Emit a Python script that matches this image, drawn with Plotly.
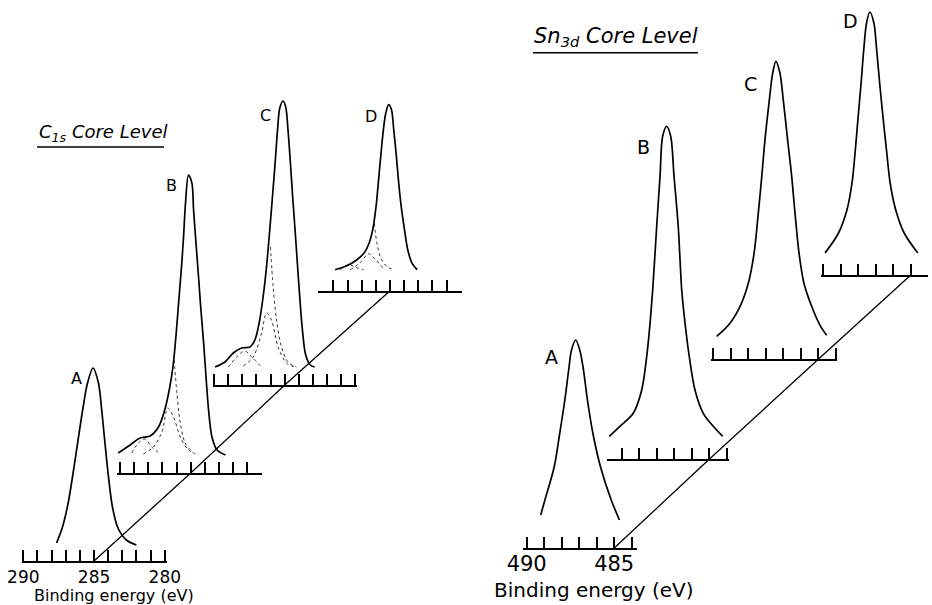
import plotly.graph_objects as go

W, H = 932, 605

# ------------------------------------------------------------------
# DATA (intensities in arbitrary units)
# ------------------------------------------------------------------
C1S_TICKS = [290, 289, 288, 287, 286, 285, 284, 283, 282, 281, 280]
C1S_LABELED = [290, 285, 280]
SN_TICKS = [490, 489, 488, 487, 486, 485, 484]
SN_TICKS_C = [491, 490, 489, 488, 487, 486, 485, 484]
SN_LABELED = [490, 485]
LABELS = ["A", "B", "C", "D"]

# C1s spectrum A
C1S_A_BE = [287.65, 287.23, 286.83, 286.48, 286.13, 285.77, 285.46, 285.07, 284.69,
            284.48, 284.25, 284.01, 283.70, 283.31, 282.72, 282.01]
C1S_A_INT = [18, 34, 58, 88, 121, 154, 178, 193, 178, 154, 121, 88, 54, 33, 21, 16]

# C1s spectrum B (envelope + fitted components)
C1S_B_BE = [290.12, 289.29, 288.58, 287.87, 287.28, 286.88, 286.52, 286.26, 286.05,
            285.86, 285.67, 285.51, 285.37, 285.16, 284.92, 284.80, 284.63, 284.45,
            284.28, 284.09, 283.92, 283.74, 283.50, 283.14, 282.55]
C1S_B_INT = [20, 28, 35, 37, 46, 61, 83, 106, 136, 170, 203, 236, 270, 298, 290, 263,
             230, 196, 163, 130, 96, 63, 36, 23, 18]
C1S_B_MAIN_BE = [286.17, 285.98, 285.74, 285.39, 284.80]
C1S_B_MAIN_INT = [113, 80, 50, 30, 20]
C1S_B_C2_BE = [288.35, 287.64, 287.04, 286.62, 286.22, 285.74, 285.23, 284.68]
C1S_B_C2_INT = [19, 26, 41, 65, 56, 36, 24, 19]
C1S_B_C3_BE = [289.17, 288.70, 288.23, 287.75, 287.16]
C1S_B_C3_INT = [20, 30, 34, 26, 19]

# C1s spectrum C
C1S_C_BE = [289.93, 289.23, 288.64, 288.05, 287.46, 287.11, 286.81, 286.53, 286.29,
            286.06, 285.87, 285.68, 285.51, 285.35, 285.12, 284.93, 284.77, 284.60,
            284.44, 284.27, 284.11, 283.94, 283.75, 283.52, 283.19, 282.89]
C1S_C_INT = [18, 23, 32, 37, 38, 45, 62, 88, 118, 155, 188, 222, 255, 277, 284, 278,
             255, 222, 188, 155, 122, 88, 55, 30, 20, 18]
C1S_C_MAIN_BE = [286.01, 285.82, 285.58, 285.23, 284.77, 284.18]
C1S_C_MAIN_INT = [138, 98, 65, 38, 23, 18]
C1S_C_C2_BE = [287.93, 287.23, 286.64, 286.29, 285.94, 285.47, 284.88, 284.30]
C1S_C_C2_INT = [19, 28, 52, 72, 65, 38, 22, 18]
C1S_C_C3_BE = [288.99, 288.40, 287.82, 287.27, 286.64]
C1S_C_C3_INT = [18, 28, 34, 27, 18]

# C1s spectrum D
C1S_D_BE = [288.88, 288.05, 287.34, 286.82, 286.47, 286.21, 285.99, 285.81, 285.64,
            285.47, 285.31, 285.10, 284.90, 284.74, 284.57, 284.41, 284.21, 283.98,
            283.75, 283.43, 283.08]
C1S_D_INT = [21, 25, 31, 38, 48, 62, 84, 111, 137, 161, 177, 186, 181, 161, 137, 111,
             84, 61, 41, 27, 21]
C1S_D_MAIN_BE = [286.11, 285.92, 285.64, 285.21, 284.74]
C1S_D_MAIN_INT = [67, 47, 32, 24, 21]
C1S_D_C2_BE = [287.82, 287.11, 286.52, 286.04, 285.45]
C1S_D_C2_INT = [21, 28, 37, 31, 22]
C1S_D_C3_BE = [288.53, 287.94, 287.34, 286.87]
C1S_D_C3_INT = [21, 26, 23, 21]

# Sn3d spectra
SN_A_BE = [489.20, 488.96, 488.43, 488.11, 487.82, 487.58, 487.44, 487.20, 486.97,
           486.78, 486.53, 486.22, 485.78, 485.17, 484.70]
SN_A_INT = [33, 48, 81, 115, 148, 181, 198, 208, 198, 181, 148, 115, 81, 48, 28]

SN_B_BE = [490.71, 490.10, 489.34, 488.86, 488.57, 488.38, 488.23, 488.00, 487.81,
           487.66, 487.43, 487.20, 487.01, 486.77, 486.57, 486.38, 486.14, 485.81,
           485.34, 484.77, 484.23]
SN_B_INT = [23, 33, 46, 69, 103, 136, 169, 233, 283, 323, 333, 323, 283, 233, 169,
            136, 103, 69, 46, 33, 23]

SN_C_BE = [490.81, 490.14, 489.47, 489.00, 488.67, 488.43, 488.23, 488.05, 487.80,
           487.61, 487.42, 487.19, 487.00, 486.75, 486.52, 486.33, 486.10, 485.82,
           485.38, 484.90, 484.52]
SN_C_INT = [23, 34, 53, 76, 106, 146, 183, 219, 259, 286, 298, 286, 259, 219, 183,
            146, 106, 76, 53, 34, 24]

SN_D_BE = [489.90, 489.13, 488.65, 488.36, 488.17, 488.01, 487.84, 487.69, 487.53,
           487.34, 487.11, 486.95, 486.78, 486.59, 486.39, 486.18, 485.86, 485.38,
           484.60]
SN_D_INT = [22, 42, 65, 92, 125, 158, 192, 225, 252, 263, 252, 225, 192, 158, 125,
            92, 65, 42, 22]

# ------------------------------------------------------------------
# LAYOUT GEOMETRY (pixel placement of each offset spectrum axis)
# ------------------------------------------------------------------
LEFT_SCALE = 14.15   # px per eV
RIGHT_SCALE = 17.5

panels = [
    dict(scale=LEFT_SCALE, ref=285, ticksize=17, labsize=16, standoff=0, spectra=[
        dict(x0=23.3, e0=290, base=561, ext=(290.09, 279.84), ticks=C1S_TICKS, labeled=C1S_LABELED,
             lab=(286.24, 183), env=(C1S_A_BE, C1S_A_INT), comps=[]),
        dict(x0=120, e0=290, base=473, ext=(290.23, 279.99), ticks=C1S_TICKS, labeled=None,
             lab=(286.33, 288), env=(C1S_B_BE, C1S_B_INT),
             comps=[(C1S_B_MAIN_BE, C1S_B_MAIN_INT), (C1S_B_C2_BE, C1S_B_C2_INT), (C1S_B_C3_BE, C1S_B_C3_INT)]),
        dict(x0=214, e0=290, base=385, ext=(290.09, 279.87), ticks=C1S_TICKS, labeled=None,
             lab=(286.36, 270), env=(C1S_C_BE, C1S_C_INT),
             comps=[(C1S_C_MAIN_BE, C1S_C_MAIN_INT), (C1S_C_C2_BE, C1S_C_C2_INT), (C1S_C_C3_BE, C1S_C_C3_INT)]),
        dict(x0=319.3, e0=290, base=290.7, ext=(290.07, 279.94), ticks=C1S_TICKS, labeled=None,
             lab=(286.35, 174), env=(C1S_D_BE, C1S_D_INT),
             comps=[(C1S_D_MAIN_BE, C1S_D_MAIN_INT), (C1S_D_C2_BE, C1S_D_C2_INT), (C1S_D_C3_BE, C1S_D_C3_INT)]),
    ]),
    dict(scale=RIGHT_SCALE, ref=485, ticksize=21, labsize=19, standoff=-4, spectra=[
        dict(x0=526.7, e0=490, base=548, ext=(490.21, 483.70), ticks=SN_TICKS, labeled=SN_LABELED,
             lab=(488.58, 191), env=(SN_A_BE, SN_A_INT), comps=[]),
        dict(x0=621.7, e0=490, base=459.3, ext=(490.86, 483.87), ticks=SN_TICKS, labeled=None,
             lab=(488.77, 312), env=(SN_B_BE, SN_B_INT), comps=[]),
        dict(x0=713.3, e0=491, base=359.3, ext=(491.15, 483.91), ticks=SN_TICKS_C, labeled=None,
             lab=(488.86, 275), env=(SN_C_BE, SN_C_INT), comps=[]),
        dict(x0=823.3, e0=490, base=275, ext=(490.15, 484.02), ticks=SN_TICKS, labeled=None,
             lab=(488.46, 254), env=(SN_D_BE, SN_D_INT), comps=[]),
    ]),
]

FONT = "DejaVu Sans"
TICK_STYLE = dict(ticks="inside", ticklen=11, tickwidth=1.6, tickcolor="black")

fig = go.Figure()
layout = dict(width=W, height=H, margin=dict(l=0, r=0, t=0, b=0, pad=0, autoexpand=False),
              template="none",
              paper_bgcolor="white", plot_bgcolor="rgba(0,0,0,0)",
              showlegend=False, annotations=[], shapes=[])

n = 0
for panel in panels:
    sc = panel["scale"]
    diag_pts = []
    for k, sp in enumerate(panel["spectra"]):
        n += 1
        sfx = "" if n == 1 else str(n)
        px = lambda e, sp=sp: sp["x0"] + (sp["e0"] - e) * sc
        xl, xr = px(sp["ext"][0]), px(sp["ext"][1])
        hpx = min(sp["base"], 350)
        xa = dict(domain=[xl / W, xr / W], range=[sp["ext"][0], sp["ext"][1]],
                  anchor="y" + sfx, showgrid=False, zeroline=False, automargin=False,
                  showline=True, linecolor="black", linewidth=2,
                  tickmode="array", fixedrange=True, **TICK_STYLE)
        if sp["labeled"] is not None:
            xa.update(tickvals=sp["labeled"], ticktext=[str(v) for v in sp["labeled"]],
                      showticklabels=True, tickangle=0,
                      tickfont=dict(family=FONT, size=panel["ticksize"], color="black"),
                      ticklabelstandoff=panel["standoff"],
                      minor=dict(tickmode="array", tickvals=sp["ticks"], showgrid=False,
                                 **TICK_STYLE))
        else:
            xa.update(tickvals=sp["ticks"], showticklabels=False)
        ya = dict(domain=[1 - sp["base"] / H, 1 - (sp["base"] - hpx) / H],
                  range=[0, hpx], anchor="x" + sfx, visible=False, fixedrange=True,
                  automargin=False)
        layout["xaxis" + sfx] = xa
        layout["yaxis" + sfx] = ya

        for cbe, cint in sp["comps"]:
            fig.add_trace(go.Scatter(x=cbe, y=cint, mode="lines",
                                     xaxis="x" + sfx, yaxis="y" + sfx,
                                     line=dict(color="#333", width=1, dash="dot",
                                               shape="spline", smoothing=0.9),
                                     hoverinfo="skip"))
        fig.add_trace(go.Scatter(x=sp["env"][0], y=sp["env"][1], mode="lines",
                                 xaxis="x" + sfx, yaxis="y" + sfx,
                                 line=dict(color="black", width=1.7,
                                           shape="spline", smoothing=0.9)))
        layout["annotations"].append(dict(
            x=sp["lab"][0], y=sp["lab"][1], xref="x" + sfx, yref="y" + sfx,
            text=LABELS[k], showarrow=False, xanchor="center", yanchor="middle",
            font=dict(family=FONT, size=panel["labsize"], color="black")))
        diag_pts.append((px(panel["ref"]) / W, 1 - sp["base"] / H))

    path = "M " + " L ".join(f"{x:.5f},{y:.5f}" for x, y in diag_pts)
    layout["shapes"].append(dict(type="path", path=path, xref="paper", yref="paper",
                                 line=dict(color="black", width=1.3)))

# axis captions
layout["annotations"].append(dict(x=113.5 / W, y=1 - 595 / H, xref="paper", yref="paper",
                                  text="Binding energy (eV)", showarrow=False,
                                  xanchor="center", yanchor="middle",
                                  font=dict(family=FONT, size=16, color="black")))
layout["annotations"].append(dict(x=594 / W, y=1 - 590 / H, xref="paper", yref="paper",
                                  text="Binding energy (eV)", showarrow=False,
                                  xanchor="center", yanchor="middle",
                                  font=dict(family=FONT, size=20, color="black")))
# panel titles
layout["annotations"].append(dict(x=37 / W, y=1 - 133 / H, xref="paper", yref="paper",
                                  text="<i>C<sub>1s</sub> Core Level</i>", showarrow=False,
                                  xanchor="left", yanchor="middle",
                                  font=dict(family=FONT, size=18, color="black")))
layout["annotations"].append(dict(x=532 / W, y=1 - 37 / H, xref="paper", yref="paper",
                                  text="<i>Sn<sub>3d</sub> Core Level</i>", showarrow=False,
                                  xanchor="left", yanchor="middle",
                                  font=dict(family=FONT, size=21, color="black")))
layout["shapes"].append(dict(type="line", xref="paper", yref="paper",
                             x0=37 / W, x1=164 / W, y0=1 - 147 / H, y1=1 - 147 / H,
                             line=dict(color="black", width=1.5)))
layout["shapes"].append(dict(type="line", xref="paper", yref="paper",
                             x0=533 / W, x1=698 / W, y0=1 - 52.7 / H, y1=1 - 52.7 / H,
                             line=dict(color="black", width=1.5)))

fig.update_layout(**layout)
fig.write_html("out.html", config=dict(displayModeBar=False))
